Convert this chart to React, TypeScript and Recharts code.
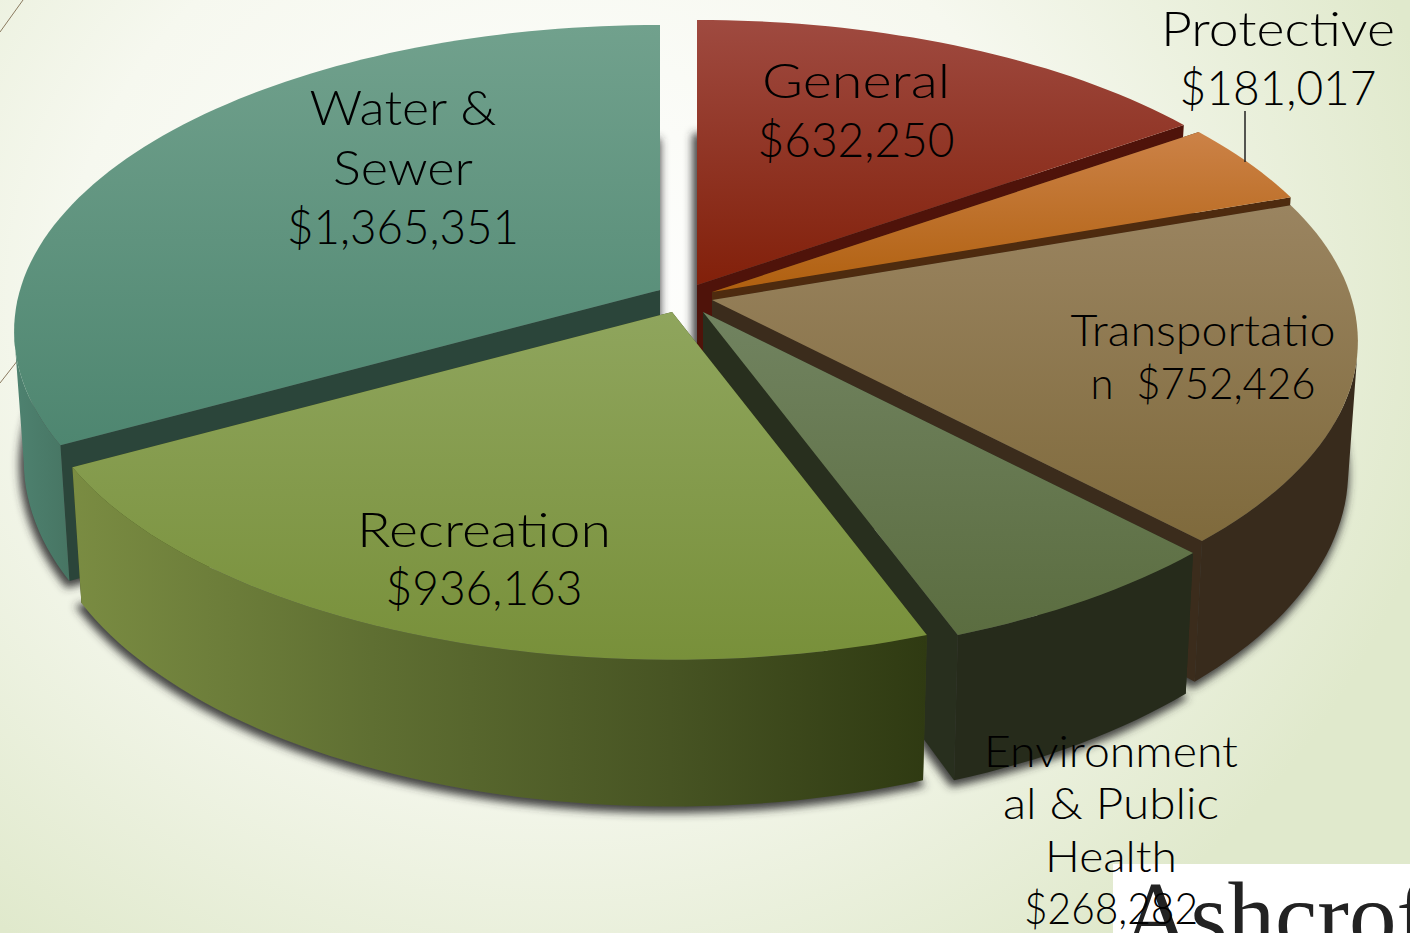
import { PieChart, Pie } from 'recharts'

// budget slices, listed in paint order: back of the pie first, Recreation last
const categories = ['Water & Sewer', 'General', 'Protective', 'Transportation', 'Environmental & Public Health', 'Recreation']
const amounts = [1365351, 632250, 181017, 752426, 268282, 936163]
const labelLines = [
  ['Water &', 'Sewer', '$1,365,351'],
  ['General', '$632,250'],
  ['Protective', '$181,017'],
  ['Transportatio', 'n  $752,426'],
  ['Environment', 'al & Public', 'Health', '$268,282'],
  ['Recreation', '$936,163'],
]

const data = categories.map((name, i) => ({ name, value: amounts[i] }))
const total = amounts.reduce((a, b) => a + b, 0)

// pie starts at 12 o'clock with General, so Water & Sewer starts one slice earlier
const START_ANGLE = 90 + (360 * amounts[0]) / total

const WIDTH = 1410
const HEIGHT = 933
const TILT = 0.47
const PERSPECTIVE = 0.135
const DEPTH = 127
const CONVERGE = 0.985

const explode = [[-40, -10], [-3, -15], [12, -8], [12, 0], [3, 12], [-28, 12]]
const topColors = [
  ['#71a18d', '#4e8670'],
  ['#9f4a40', '#82200a'],
  ['#cc8247', '#b0600f'],
  ['#9a8460', '#7f6a3c'],
  ['#718360', '#5b6d40'],
  ['#8fa55d', '#78903a'],
]
const faceColors = ['#2b453a', '#4f130a', '#4e2b0f', '#3b2c1c', '#282f1e', '#3a4418']
const wallFills = ['url(#wall-water)', '#4f130a', '#4e2b0f', '#382b1c', '#262b1b', 'url(#wall-rec)']
const labelPos = [
  { x: 403, y: 125, dy: 59.5, size: 47 },
  { x: 856, y: 98, dy: 59, size: 47 },
  { x: 1278, y: 46, dy: 59, size: 47 },
  { x: 1203, y: 346, dy: 53, size: 43 },
  { x: 1111, y: 767, dy: 52.3, size: 43 },
  { x: 484, y: 547, dy: 58, size: 47 },
]
const labelWidths = [
  [187, 140, 232],
  [188, 197],
  [234, 197],
  [265, 225],
  [254, 216, 132, 174],
  [254, 197],
]

// project a point on the pie rim to the page, nearer points get bigger
function rimPoint(ax: number, ay: number, r: number, deg: number) {
  const rad = (deg * Math.PI) / 180
  const u = Math.cos(rad)
  const v = -Math.sin(rad)
  const s = 1 / (1 - PERSPECTIVE * v)
  return { x: ax + r * u * s, y: ay + r * TILT * v * s, s, v }
}

function lowered(p: { x: number; y: number; s: number }, ax: number) {
  return { x: ax + (p.x - ax) * CONVERGE, y: p.y + DEPTH * p.s }
}

function toPath(pts: { x: number; y: number }[]) {
  return 'M' + pts.map((p) => `${p.x.toFixed(1)},${p.y.toFixed(1)}`).join('L') + 'Z'
}

function sliceGeometry(props: any) {
  const { cx, cy, outerRadius, startAngle, endAngle, index } = props
  const ax = cx + explode[index][0]
  const ay = cy + explode[index][1]
  const steps = Math.max(8, Math.ceil(Math.abs(endAngle - startAngle) / 1.5))
  const arc = []
  for (let k = 0; k <= steps; k++) {
    arc.push(rimPoint(ax, ay, outerRadius, startAngle + ((endAngle - startAngle) * k) / steps))
  }
  const apex = { x: ax, y: ay, s: 1 }
  const arcLow = arc.map((p) => lowered(p, ax))
  const apexLow = lowered(apex, ax)
  // the rim wall only shows from the silhouette points forward
  const front = arc.filter((p) => p.v >= PERSPECTIVE)
  const frontLow = front.map((p) => lowered(p, ax))
  return { arc, arcLow, apex, apexLow, front, frontLow, index }
}

function ShadowShape(props: any) {
  const { arcLow, apexLow } = sliceGeometry(props)
  return (
    <path
      d={toPath([apexLow, ...arcLow])}
      transform="translate(-2,4)"
      fill="#333"
      stroke="#333"
      strokeWidth={5}
      fillOpacity={0.9}
      strokeOpacity={0.9}
      filter="url(#soft)"
    />
  )
}

function SliceShape(props: any) {
  const { arc, arcLow, apex, apexLow, front, frontLow, index } = sliceGeometry(props)
  const first = arc[0]
  const last = arc[arc.length - 1]
  return (
    <g>
      <path d={toPath([apex, first, arcLow[0], apexLow])} fill={faceColors[index]} />
      <path d={toPath([apex, last, arcLow[arcLow.length - 1], apexLow])} fill={faceColors[index]} />
      {front.length > 1 && <path d={toPath([...front, ...frontLow.slice().reverse()])} fill={wallFills[index]} />}
      <path d={toPath([apex, ...arc])} fill={`url(#top-${index})`} />
    </g>
  )
}

function SliceLabel(props: any) {
  const { index } = props
  const pos = labelPos[index]
  return (
    <g key={index}>
      {labelLines[index].map((line, i) => (
        <text
          key={i}
          x={pos.x}
          y={pos.y + i * pos.dy}
          textAnchor="middle"
          textLength={labelWidths[index][i]}
          lengthAdjust="spacingAndGlyphs"
          fontFamily="Lato, sans-serif"
          fontWeight={300}
          fontSize={pos.size}
          fill="#000"
          xmlSpace="preserve"
        >
          {line}
        </text>
      ))}
      {index === 2 && <line x1={1245} y1={111} x2={1245} y2={162} stroke="#222" strokeWidth={1.5} />}
    </g>
  )
}

export default function App() {
  return (
    <div
      style={{
        position: 'absolute',
        left: 0,
        top: 0,
        width: WIDTH,
        height: HEIGHT,
        overflow: 'hidden',
        background: 'radial-gradient(ellipse 900px 800px at 560px 300px, #ffffff 0%, #f6f8ef 55%, #e0e9cc 100%)',
      }}
    >
      <svg width={WIDTH} height={HEIGHT} style={{ position: 'absolute', left: 0, top: 0 }}>
        <line x1={0} y1={32} x2={23} y2={0} stroke="#8a7a60" strokeWidth={1} />
        <line x1={0} y1={383} x2={18} y2={360} stroke="#8a7a60" strokeWidth={1} />
        <rect x={1113} y={864} width={297} height={69} fill="#fff" />
        <text x={1122} y={948} fontFamily="'Liberation Serif', serif" fontSize={95} fill="#222">
          Ashcroft
        </text>
      </svg>
      <div style={{ position: 'absolute', left: 0, top: 0 }}>
        <PieChart width={WIDTH} height={HEIGHT} margin={{ top: 0, right: 0, bottom: 0, left: 0 }}>
          <defs>
            <filter id="soft" x="-20%" y="-20%" width="140%" height="140%">
              <feGaussianBlur stdDeviation="4.5" />
            </filter>
            {topColors.map((c, i) => (
              <linearGradient key={i} id={`top-${i}`} x1="0" y1="0" x2="0" y2="1">
                <stop offset="0%" stopColor={c[0]} />
                <stop offset="100%" stopColor={c[1]} />
              </linearGradient>
            ))}
            <linearGradient id="wall-water" x1="0" y1="0" x2="1" y2="0">
              <stop offset="0%" stopColor="#4e8270" />
              <stop offset="100%" stopColor="#477563" />
            </linearGradient>
            <linearGradient id="wall-rec" x1="0" y1="0" x2="1" y2="0">
              <stop offset="0%" stopColor="#7a8c42" />
              <stop offset="35%" stopColor="#5f6f32" />
              <stop offset="70%" stopColor="#475423" />
              <stop offset="100%" stopColor="#2f3a12" />
            </linearGradient>
          </defs>
          <Pie
            data={data}
            dataKey="value"
            nameKey="name"
            cx={700}
            cy={300}
            outerRadius={640}
            startAngle={START_ANGLE}
            endAngle={START_ANGLE - 360}
            stroke="none"
            isAnimationActive={false}
            shape={ShadowShape}
            inactiveShape={ShadowShape}
            activeShape={ShadowShape}
            label={false}
            labelLine={false}
          />
          <Pie
            data={data}
            dataKey="value"
            nameKey="name"
            cx={700}
            cy={300}
            outerRadius={640}
            startAngle={START_ANGLE}
            endAngle={START_ANGLE - 360}
            stroke="none"
            isAnimationActive={false}
            shape={SliceShape}
            inactiveShape={SliceShape}
            activeShape={SliceShape}
            label={SliceLabel}
            labelLine={false}
          />
        </PieChart>
      </div>
    </div>
  )
}
